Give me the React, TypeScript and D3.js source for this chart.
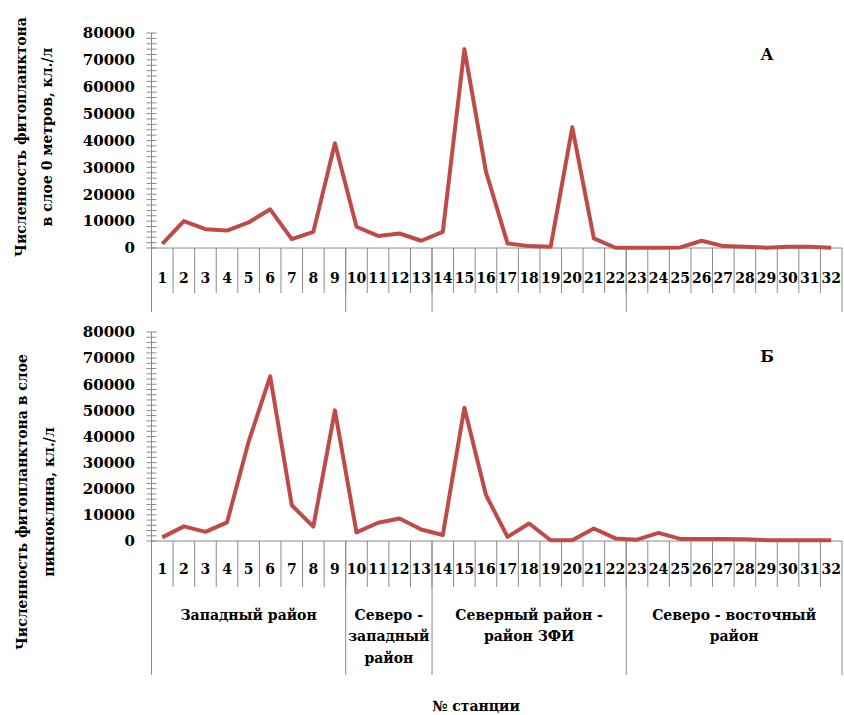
import * as d3 from "d3";
import { useEffect, useRef } from "react";

// номера станций
const stations = ["1", "2", "3", "4", "5", "6", "7", "8", "9", "10", "11", "12", "13", "14", "15", "16",
    "17", "18", "19", "20", "21", "22", "23", "24", "25", "26", "27", "28", "29", "30", "31", "32"];

// А - слой 0 метров, кл./л
const surfaceValues = [1500, 10000, 7000, 6500, 9500, 14400, 3300, 6000, 39000, 7900, 4500, 5400, 2700, 6000, 74000, 28400,
    1700, 700, 500, 44900, 3600, 100, 100, 100, 200, 2700, 700, 500, 100, 500, 500, 100];

// Б - слой пикноклина, кл./л
const pycnoValues = [1400, 5600, 3500, 7100, 38000, 63000, 13700, 5500, 50000, 3300, 7000, 8600, 4400, 2300, 51000, 17600,
    1600, 6700, 300, 300, 4800, 1000, 500, 3100, 800, 800, 800, 700, 300, 300, 300, 300];

// районы: последняя станция района и подпись
const regionEnds = [9, 13, 22, 32];
const regionLabels = [
    ["Западный район"],
    ["Северо -", "западный", "район"],
    ["Северный район -", "район ЗФИ"],
    ["Северо - восточный", "район"],
];

const yMajorTicks = [0, 10000, 20000, 30000, 40000, 50000, 60000, 70000, 80000];

const FONT = "'DejaVu Serif', serif";
const LINE_COLOR = "#be4b48";
const AXIS_COLOR = "#8a8a8a";

const App = () => {
    const chartRef = useRef(null);

    useEffect(() => {
        const svg = d3.select(chartRef.current);
        svg.selectAll("*").remove();

        const x = d3.scaleBand().domain(stations).range([151.5, 842]).padding(0);
        const cx = (s) => x(s) + x.bandwidth() / 2;

        const drawPanel = (cfg) => {
            const y = d3.scaleLinear().domain([0, 80000]).range([cfg.base, cfg.top]);
            const g = svg.append("g");

            // минорные и основные засечки оси Y
            const minor = d3.range(0, 80001, 2000);
            g.selectAll(".ytick")
                .data(minor)
                .enter()
                .append("line")
                .attr("x1", 151.5 - 5)
                .attr("x2", 151.5 + 5)
                .attr("y1", d => y(d))
                .attr("y2", d => y(d))
                .attr("stroke", AXIS_COLOR)
                .attr("stroke-width", 1);

            g.selectAll(".ylabel")
                .data(yMajorTicks)
                .enter()
                .append("text")
                .attr("x", 135)
                .attr("y", d => y(d))
                .attr("dy", "0.35em")
                .attr("text-anchor", "end")
                .attr("font-family", FONT)
                .attr("font-weight", "bold")
                .attr("font-size", 15)
                .text(d => d);

            // ось Y
            g.append("line")
                .attr("x1", 151.5).attr("x2", 151.5)
                .attr("y1", cfg.top).attr("y2", cfg.sepBottom)
                .attr("stroke", AXIS_COLOR);

            // ось X
            g.append("line")
                .attr("x1", 151.5).attr("x2", 842)
                .attr("y1", cfg.base).attr("y2", cfg.base)
                .attr("stroke", AXIS_COLOR);

            // засечки категорий
            g.selectAll(".xtick")
                .data(stations.slice(1))
                .enter()
                .append("line")
                .attr("x1", d => x(d))
                .attr("x2", d => x(d))
                .attr("y1", cfg.base)
                .attr("y2", cfg.tickBottom)
                .attr("stroke", AXIS_COLOR);

            // границы районов
            g.selectAll(".sep")
                .data(regionEnds)
                .enter()
                .append("line")
                .attr("x1", d => x(stations[d - 1]) + x.bandwidth())
                .attr("x2", d => x(stations[d - 1]) + x.bandwidth())
                .attr("y1", cfg.base)
                .attr("y2", cfg.sepBottom)
                .attr("stroke", AXIS_COLOR);

            g.selectAll(".xlabel")
                .data(stations)
                .enter()
                .append("text")
                .attr("x", d => cx(d))
                .attr("y", cfg.numY)
                .attr("dy", "0.35em")
                .attr("text-anchor", "middle")
                .attr("font-family", FONT)
                .attr("font-weight", "bold")
                .attr("font-size", 14)
                .text(d => d);

            if (cfg.showRegions) {
                regionLabels.forEach((lines, i) => {
                    const start = i === 0 ? 0 : regionEnds[i - 1];
                    const x0 = x(stations[start]);
                    const x1 = x(stations[regionEnds[i] - 1]) + x.bandwidth();
                    lines.forEach((t, j) => {
                        g.append("text")
                            .attr("x", (x0 + x1) / 2)
                            .attr("y", cfg.regionY + j * 21.5)
                            .attr("dy", "0.35em")
                            .attr("text-anchor", "middle")
                            .attr("font-family", FONT)
                            .attr("font-weight", "bold")
                            .attr("font-size", 14)
                            .text(t);
                    });
                });
            }

            // линия
            const line = d3.line()
                .x((d, i) => cx(stations[i]))
                .y(d => y(d));

            g.append("path")
                .datum(cfg.values)
                .attr("d", line)
                .attr("fill", "none")
                .attr("stroke", LINE_COLOR)
                .attr("stroke-width", 4)
                .attr("stroke-linejoin", "round");

            // подпись панели
            g.append("text")
                .attr("x", 767)
                .attr("y", cfg.letterY)
                .attr("text-anchor", "middle")
                .attr("font-family", FONT)
                .attr("font-weight", "bold")
                .attr("font-size", 16)
                .text(cfg.letter);

            // подпись оси Y
            cfg.title.forEach((t, j) => {
                g.append("text")
                    .attr("transform", `translate(${cfg.titleX[j]}, ${cfg.titleY}) rotate(-90)`)
                    .attr("text-anchor", "middle")
                    .attr("dy", "0.35em")
                    .attr("font-family", FONT)
                    .attr("font-weight", "bold")
                    .attr("font-size", 14)
                    .text(t);
            });
        };

        drawPanel({
            values: surfaceValues, top: 33, base: 248, tickBottom: 293, sepBottom: 312,
            numY: 278, showRegions: false, letter: "А", letterY: 60,
            title: ["Численность фитопланктона", "в слое 0 метров, кл./л"], titleX: [21, 47], titleY: 137,
        });

        drawPanel({
            values: pycnoValues, top: 332, base: 541, tickBottom: 587, sepBottom: 675,
            numY: 569, showRegions: true, regionY: 615, letter: "Б", letterY: 362,
            title: ["Численность фитопланктона в слое", "пикноклина, кл./л"], titleX: [22, 49], titleY: 502,
        });

        svg.append("text")
            .attr("x", 476)
            .attr("y", 706)
            .attr("dy", "0.35em")
            .attr("text-anchor", "middle")
            .attr("font-family", FONT)
            .attr("font-weight", "bold")
            .attr("font-size", 14)
            .text("№ станции");
    }, []);

    return (
        <svg
            ref={chartRef}
            width={844}
            height={715}
            style={{ position: "absolute", left: 0, top: 0, background: "#fff" }}
        />
    );
};

export default App;
